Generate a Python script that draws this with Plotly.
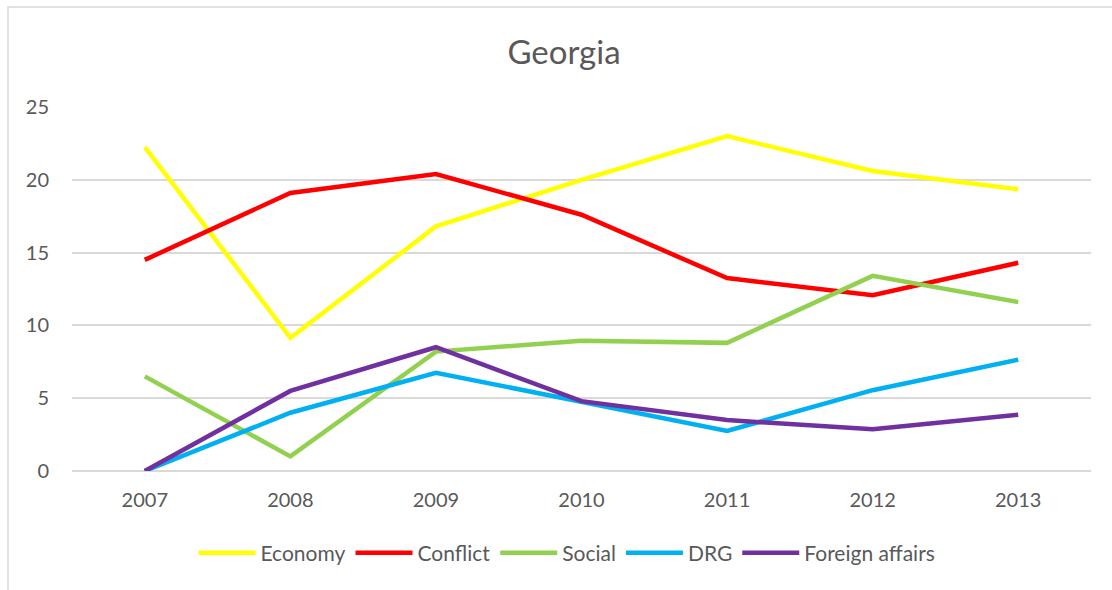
import plotly.graph_objects as go

# Yearly shares by topic, Georgia
years = ["2007", "2008", "2009", "2010", "2011", "2012", "2013"]
economy = [22.25, 9.15, 16.8, 20.0, 23.0, 20.6, 19.35]
conflict = [14.5, 19.1, 20.4, 17.6, 13.25, 12.07, 14.3]
social = [6.5, 1.0, 8.2, 8.95, 8.8, 13.4, 11.6]
drg = [0.0, 4.0, 6.75, 4.75, 2.75, 5.55, 7.65]
foreign_affairs = [0.0, 5.5, 8.5, 4.8, 3.5, 2.86, 3.87]

series = [
    ("Economy", economy, "#FFFF00"),
    ("Conflict", conflict, "#FF0000"),
    ("Social", social, "#92D050"),
    ("DRG", drg, "#00B0F0"),
    ("Foreign affairs", foreign_affairs, "#7030A0"),
]

W, H = 1112, 590
L, R, T, B = 72, 21, 107, 119
plot_w = W - L - R
plot_h = H - T - B

def px_x(p):
    return (p - L) / plot_w

def px_y(p):
    return (H - B - p) / plot_h

fig = go.Figure()
for name, vals, color in series:
    fig.add_trace(go.Scatter(
        x=years, y=vals, name=name, mode="lines",
        line=dict(color=color, width=4.5, shape="linear"),
        hoverinfo="x+y+name",
    ))

text_color = "#595959"
font_family = "Lato, 'Open Sans', sans-serif"

fig.update_layout(
    width=W, height=H,
    margin=dict(l=L, r=R, t=T, b=B, pad=0),
    paper_bgcolor="white", plot_bgcolor="white",
    font=dict(family=font_family, color=text_color, size=20),
    title=dict(
        text="Georgia", x=564 / W, xanchor="center",
        y=1 - 52 / H, yanchor="middle",
        font=dict(size=33, color=text_color, family=font_family),
    ),
    showlegend=True,
    legend=dict(
        orientation="h", x=px_x(567), xanchor="center",
        y=px_y(553), yanchor="middle",
        font=dict(size=21, color=text_color),
        itemwidth=57, tracegroupgap=0,
        bgcolor="rgba(0,0,0,0)",
    ),
    xaxis=dict(
        type="category", range=[-0.5, 6.5],
        showgrid=False, zeroline=False, showline=False,
        ticks="", ticklabelstandoff=15,
        tickfont=dict(size=20, color=text_color),
        fixedrange=True,
    ),
    yaxis=dict(
        range=[0, 25], dtick=5, tick0=0,
        showgrid=True, gridcolor="#D9D9D9", gridwidth=1.5,
        zeroline=True, zerolinecolor="#D9D9D9", zerolinewidth=1.5,
        showline=False, ticks="", ticklabelstandoff=22,
        tickfont=dict(size=20, color=text_color),
        fixedrange=True,
    ),
    shapes=[
        # chart area border (left and top edges visible)
        dict(type="rect", xref="paper", yref="paper",
             x0=px_x(8), x1=px_x(1300), y0=px_y(700), y1=px_y(7),
             line=dict(color="#D9D9D9", width=1.5), fillcolor="rgba(0,0,0,0)",
             layer="below"),
    ],
)

fig.write_html("out.html")
